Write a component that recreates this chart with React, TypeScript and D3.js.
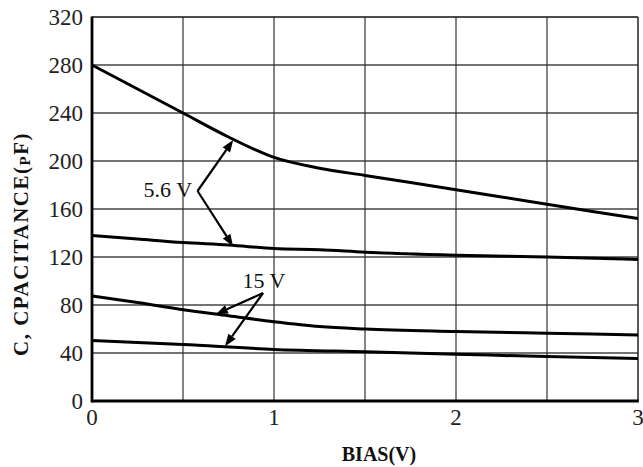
import React from "react";
import * as d3 from "d3";

const xTicks = [0, 1, 2, 3];
const yTicks = [0, 40, 80, 120, 160, 200, 240, 280, 320];
const xGrid = [0.5, 1, 1.5, 2, 2.5];

const biasA = [0, 0.25, 0.5, 0.75, 1, 1.25, 1.5, 2, 2.5, 3];
const curve56High = [280, 260, 240, 220, 203, 194, 188, 176, 164, 152];
const curve56Low = [138, 135, 132, 130, 127, 126, 124, 121.5, 120, 118];
const curve15High = [87.5, 82, 76, 71, 66, 62, 60, 58, 56.5, 55];
const biasB = [0, 0.5, 1, 1.5, 2, 2.5, 3];
const curve15Low = [50.5, 47, 43, 41, 39, 37, 35.5];

const ann56Label = "5.6 V";
const ann56Text = [0.55, 176.5];
const ann56Origin = [0.58, 175];
const ann56Tips = [[0.776, 217.4], [0.775, 129]];
const ann15Label = "15 V";
const ann15Text = [0.945, 94];
const ann15Origin = [0.94, 90];
const ann15Tips = [[0.681, 72.3], [0.731, 45.7]];

const W = 643, H = 467;
const L = 92, T = 17, R = 638, B = 401;

export default function App() {
  const x = d3.scaleLinear().domain([0, 3]).range([L, R]);
  const y = d3.scaleLinear().domain([0, 320]).range([B, T]);
  const line = d3.line<[number, number]>().x(d => x(d[0])).y(d => y(d[1])).curve(d3.curveMonotoneX);
  const series: [number[], number[]][] = [
    [biasA, curve56High], [biasA, curve56Low], [biasA, curve15High], [biasB, curve15Low],
  ];
  const font = "'Liberation Serif', 'Times New Roman', serif";

  const arrow = (o: number[], t: number[], k: string) => {
    const x1 = x(o[0]), y1 = y(o[1]), x2 = x(t[0]), y2 = y(t[1]);
    const a = Math.atan2(y2 - y1, x2 - x1);
    const len = 12, hw = 4.5;
    const bx = x2 - len * Math.cos(a), by = y2 - len * Math.sin(a);
    const p1 = [bx + hw * Math.sin(a), by - hw * Math.cos(a)];
    const p2 = [bx - hw * Math.sin(a), by + hw * Math.cos(a)];
    return (
      <g key={k}>
        <line x1={x1} y1={y1} x2={bx} y2={by} stroke="#000" strokeWidth={2.2} />
        <polygon points={`${x2},${y2} ${p1[0]},${p1[1]} ${p2[0]},${p2[1]}`} fill="#000" />
      </g>
    );
  };

  return (
    <svg width={W} height={H} style={{ position: "absolute", left: 0, top: 0, background: "#fff" }} fontFamily={font}>
      <rect width={W} height={H} fill="#fff" />
      {yTicks.filter(v => v > 0 && v < 320).map(v => (
        <line key={"h" + v} x1={L} x2={R} y1={y(v)} y2={y(v)} stroke="#444" strokeWidth={1.5} />
      ))}
      {xGrid.map(v => (
        <line key={"v" + v} x1={x(v)} x2={x(v)} y1={T} y2={B} stroke="#333" strokeWidth={1.2} />
      ))}
      <line x1={L} x2={R} y1={T} y2={T} stroke="#111" strokeWidth={1.5} />
      <line x1={R} x2={R} y1={T} y2={B} stroke="#222" strokeWidth={1.5} />
      <line x1={L} x2={L} y1={T - 0.5} y2={B + 1.5} stroke="#000" strokeWidth={2.8} />
      <line x1={L} x2={R + 0.8} y1={B} y2={B} stroke="#000" strokeWidth={2.8} />
      {series.map(([xs, ys], i) => (
        <path key={"s" + i} d={line(xs.map((v, j) => [v, ys[j]] as [number, number])) || ""}
          fill="none" stroke="#000" strokeWidth={3} />
      ))}
      {yTicks.map(v => (
        <text key={"yt" + v} x={L - 9} y={y(v)} dy="0.36em" textAnchor="end" fontSize={23} fill="#222">{v}</text>
      ))}
      {xTicks.map(v => (
        <text key={"xt" + v} x={x(v)} y={B + 24} textAnchor="middle" fontSize={23} fill="#222">{v}</text>
      ))}
      <text x={x(ann56Text[0])} y={y(ann56Text[1])} dy="0.35em" textAnchor="end" fontSize={22} fill="#111">{ann56Label}</text>
      {ann56Tips.map((t, i) => arrow(ann56Origin, t, "a56" + i))}
      <text x={x(ann15Text[0])} y={y(ann15Text[1])} textAnchor="middle" fontSize={22} fill="#111">{ann15Label}</text>
      {ann15Tips.map((t, i) => arrow(ann15Origin, t, "a15" + i))}
      <text x={379} y={461} textAnchor="middle" fontSize={20} fontWeight="bold" fill="#111">BIAS(V)</text>
      <text transform="translate(28, 244) rotate(-90)" textAnchor="middle" fontSize={21} fontWeight="bold" fill="#111" letterSpacing={1.5}>
        C, CPACITANCE(<tspan fontSize={15} dy={2}>P</tspan><tspan dy={-2}>F)</tspan>
      </text>
    </svg>
  );
}
